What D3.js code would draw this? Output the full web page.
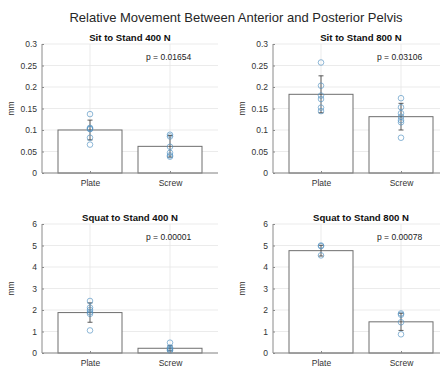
<!DOCTYPE html>
<html>
<head>
<meta charset="utf-8">
<script src="https://cdn.jsdelivr.net/npm/d3@7"></script>
<style>
  body { margin: 0; background: #fff; }
  svg { font-family: "Liberation Sans", Arial, sans-serif; }
</style>
</head>
<body>
<svg id="chart" width="440" height="367"></svg>
<script>
const categories = ['Plate', 'Screw'];
const panelTitles = ['Sit to Stand 400 N', 'Sit to Stand 800 N', 'Squat to Stand 400 N', 'Squat to Stand 800 N'];
const pLabels = ['p = 0.01654', 'p = 0.03106', 'p = 0.00001', 'p = 0.00078'];
const yMaxes = [0.3, 0.3, 6, 6];
const yTicks = [
  [0, 0.05, 0.1, 0.15, 0.2, 0.25, 0.3],
  [0, 0.05, 0.1, 0.15, 0.2, 0.25, 0.3],
  [0, 1, 2, 3, 4, 5, 6],
  [0, 1, 2, 3, 4, 5, 6]
];
const means = [[0.100, 0.062], [0.183, 0.131], [1.88, 0.22], [4.76, 1.45]];
const errs = [[0.023, 0.025], [0.043, 0.031], [0.45, 0.12], [0.25, 0.40]];
const points = [
  [[0.137, 0.105, 0.103, 0.102, 0.082, 0.066], [0.089, 0.085, 0.061, 0.047, 0.041, 0.038]],
  [[0.257, 0.203, 0.180, 0.172, 0.152, 0.144], [0.174, 0.153, 0.139, 0.131, 0.123, 0.118, 0.082]],
  [[2.42, 2.11, 2.0, 1.9, 1.82, 1.05], [0.48, 0.25, 0.2, 0.15, 0.11]],
  [[5.0, 4.97, 4.54], [1.84, 1.78, 1.43, 0.87]]
];

const svg = d3.select('#chart');
const axW = 176, axH = 129;
const origins = [[42, 44], [273, 44], [42, 224], [273, 224]];

svg.append('text')
  .attr('x', 236).attr('y', 22)
  .attr('text-anchor', 'middle')
  .attr('font-size', 13)
  .attr('fill', '#262626')
  .text('Relative Movement Between Anterior and Posterior Pelvis');

panelTitles.forEach((title, i) => {
  const [ox, oy] = origins[i];
  const x = d3.scaleLinear().domain([0.4, 2.6]).range([ox, ox + axW]);
  const y = d3.scaleLinear().domain([0, yMaxes[i]]).range([oy + axH, oy]);
  const g = svg.append('g');

  // grid
  g.selectAll('.hgrid').data(yTicks[i]).enter().append('line')
    .attr('x1', ox).attr('x2', ox + axW)
    .attr('y1', d => y(d)).attr('y2', d => y(d))
    .attr('stroke', '#e6e6e6').attr('stroke-width', 0.8);
  g.selectAll('.vgrid').data([1, 2]).enter().append('line')
    .attr('x1', d => x(d)).attr('x2', d => x(d))
    .attr('y1', oy).attr('y2', oy + axH)
    .attr('stroke', '#e6e6e6').attr('stroke-width', 0.8);

  // bars
  g.selectAll('.bar').data(means[i]).enter().append('rect')
    .attr('x', (d, j) => x(j + 1 - 0.4))
    .attr('width', x(1.4) - x(0.6))
    .attr('y', d => y(d))
    .attr('height', d => y(0) - y(d))
    .attr('fill', '#fff')
    .attr('stroke', '#6e6e6e').attr('stroke-width', 1);

  // error bars
  means[i].forEach((m, j) => {
    const cx = x(j + 1), e = errs[i][j];
    g.append('line').attr('x1', cx).attr('x2', cx)
      .attr('y1', y(m - e)).attr('y2', y(m + e))
      .attr('stroke', '#333').attr('stroke-width', 0.8);
    [m - e, m + e].forEach(v => {
      g.append('line').attr('x1', cx - 2.5).attr('x2', cx + 2.5)
        .attr('y1', y(v)).attr('y2', y(v))
        .attr('stroke', '#333').attr('stroke-width', 0.8);
    });
  });

  // points
  points[i].forEach((pts, j) => {
    g.selectAll('.pt' + j).data(pts).enter().append('circle')
      .attr('cx', x(j + 1))
      .attr('cy', d => y(d))
      .attr('r', 2.8)
      .attr('fill', 'none')
      .attr('stroke', '#4f8fc0').attr('stroke-opacity', 0.8)
      .attr('stroke-width', 0.8);
  });

  // axes
  const yAxis = d3.axisLeft(y).tickValues(yTicks[i]).tickSize(-2).tickPadding(5)
    .tickFormat(d => String(+d.toFixed(2)));
  const ya = g.append('g').attr('transform', `translate(${ox},0)`).call(yAxis);
  const xAxis = d3.axisBottom(x).tickValues([1, 2]).tickSize(-2).tickPadding(7)
    .tickFormat(d => categories[d - 1]);
  const xa = g.append('g').attr('transform', `translate(0,${oy + axH})`).call(xAxis);
  [ya, xa].forEach(a => {
    a.select('.domain').attr('stroke', '#8a8a8a').attr('d',
      a === ya ? `M0,${oy}V${oy + axH}` : `M${ox},0H${ox + axW}`);
    a.selectAll('.tick line').attr('stroke', '#8a8a8a');
    a.selectAll('.tick text').attr('fill', '#333').attr('font-size', 8.5)
      .attr('font-family', '"Liberation Sans", Arial, sans-serif');
  });

  g.append('text')
    .attr('transform', `translate(${ox - 28},${oy + axH / 2}) rotate(-90)`)
    .attr('text-anchor', 'middle')
    .attr('font-size', 8.5).attr('fill', '#333')
    .text('mm');

  g.append('text')
    .attr('x', (x(0.4) + x(2.6)) / 2).attr('y', oy - 3)
    .attr('text-anchor', 'middle')
    .attr('font-size', 9.6).attr('font-weight', 'bold').attr('fill', '#111')
    .text(title);

  g.append('text')
    .attr('x', x(1.7)).attr('y', y(yMaxes[i] * 0.9) + 3)
    .attr('font-size', 8.5).attr('fill', '#222')
    .text(pLabels[i]);
});
</script>
</body>
</html>
